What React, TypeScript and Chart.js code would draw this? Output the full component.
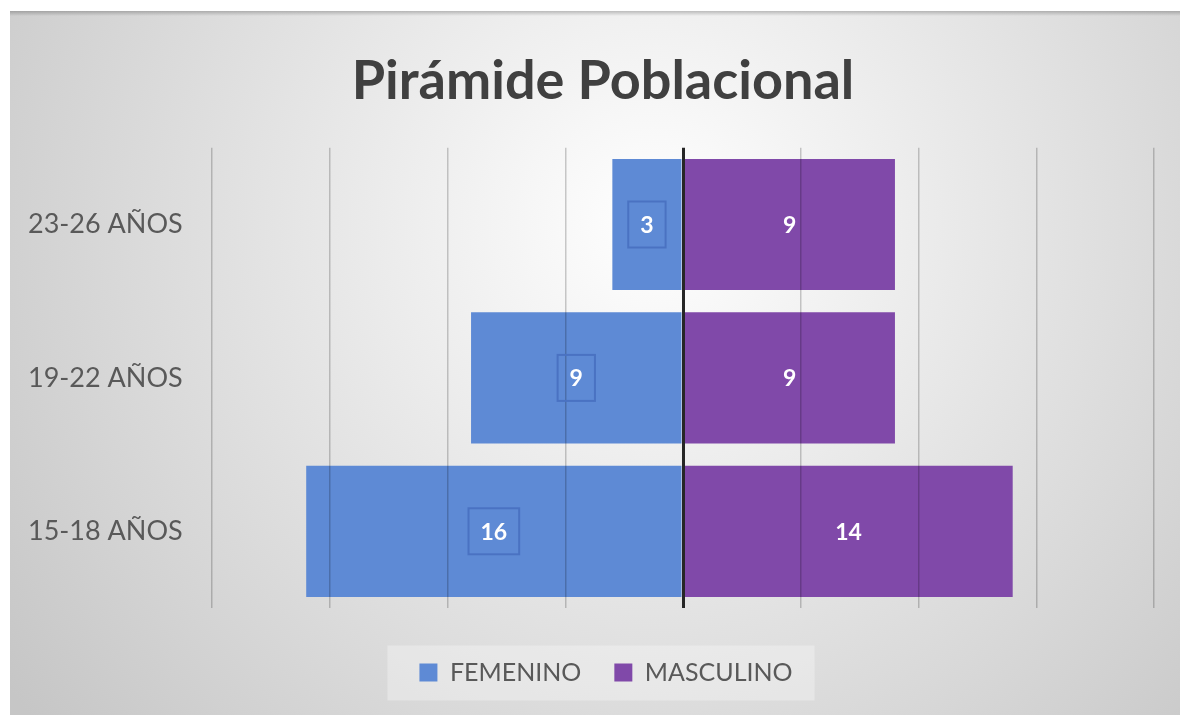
import React, { useEffect, useRef } from "react";
import { Chart, registerables } from "chart.js";

Chart.register(...registerables);

const TITLE = "Pirámide Poblacional";
const AGE_GROUPS = ["23-26 AÑOS", "19-22 AÑOS ", "15-18 AÑOS"];
const SERIES_NAMES = ["FEMENINO", "MASCULINO"];
const FEMENINO = [3, 9, 16];
const MASCULINO = [9, 9, 14];
const X_MIN = -20;
const X_MAX = 20;
const X_STEP = 5;
const COLORS = ["#5E8AD5", "#8049A9"];

const FONT = "Lato, 'Open Sans', sans-serif";

const shiftPlugin = {
  id: "shiftPlugin",
  afterLayout(chart: any) {
    if (chart.legend) {
      chart.legend.left += 15;
      chart.legend.right += 15;
    }
    if (chart.titleBlock) {
      chart.titleBlock.left += 12;
      chart.titleBlock.right += 12;
    }
  },
};

const backgroundPlugin = {
  id: "bgPlugin",
  beforeDraw(chart: any) {
    const { ctx, width, height } = chart;
    ctx.save();
    const g = ctx.createRadialGradient(width * 0.55, height * 0.3, 0, width * 0.55, height * 0.3, width * 0.68);
    g.addColorStop(0, "#ffffff");
    g.addColorStop(1, "#c6c6c6");
    ctx.fillStyle = g;
    ctx.fillRect(0, 0, width, height);
    const tg = ctx.createLinearGradient(0, 0, 0, 5);
    tg.addColorStop(0, "rgba(0,0,0,0.22)");
    tg.addColorStop(1, "rgba(0,0,0,0)");
    ctx.fillStyle = tg;
    ctx.fillRect(0, 0, width, 5);
    const lg = chart.legend;
    if (lg && lg.legendHitBoxes && lg.legendHitBoxes.length) {
      const boxes = lg.legendHitBoxes;
      const l = Math.min(...boxes.map((b: any) => b.left)) - 32;
      const r = Math.max(...boxes.map((b: any) => b.left + b.width)) + 22;
      const cy = boxes[0].top + boxes[0].height / 2;
      ctx.fillStyle = "rgba(255,255,255,0.3)";
      ctx.fillRect(l, cy - 27, r - l, 55);
    }
    ctx.restore();
  },
};

const labelPlugin = {
  id: "labelPlugin",
  afterDraw(chart: any) {
    const { ctx } = chart;
    ctx.save();
    ctx.font = `bold 23px ${FONT}`;
    ctx.textAlign = "center";
    ctx.textBaseline = "middle";
    chart.data.datasets.forEach((ds: any, di: number) => {
      const meta = chart.getDatasetMeta(di);
      meta.data.forEach((bar: any, i: number) => {
        const v = String(Math.abs(ds.data[i]));
        const { x, base, y } = bar.getProps(["x", "base", "y"], true);
        const cx = (x + base) / 2;
        if (di === 0) {
          const w = ctx.measureText(v).width + 24;
          ctx.strokeStyle = "#4A72C2";
          ctx.lineWidth = 2;
          ctx.strokeRect(cx - w / 2, y - 23, w, 46);
        }
        ctx.fillStyle = "#ffffff";
        ctx.fillText(v, cx, y + 1);
      });
    });
    ctx.restore();
  },
};

export default function App() {
  const ref = useRef<HTMLCanvasElement | null>(null);

  useEffect(() => {
    if (!ref.current) return;
    const chart = new Chart(ref.current, {
      type: "bar",
      data: {
        labels: AGE_GROUPS,
        datasets: [
          {
            label: SERIES_NAMES[0],
            data: FEMENINO.map((v) => -v),
            backgroundColor: COLORS[0],
            borderWidth: 0,
            barPercentage: 0.855,
            categoryPercentage: 1,
          },
          {
            label: SERIES_NAMES[1],
            data: MASCULINO,
            backgroundColor: COLORS[1],
            borderWidth: 0,
            barPercentage: 0.855,
            categoryPercentage: 1,
          },
        ],
      },
      options: {
        indexAxis: "y",
        responsive: false,
        animation: false,
        layout: { padding: { left: 18, right: 26, top: 0, bottom: 20 } },
        scales: {
          x: {
            stacked: true,
            min: X_MIN,
            max: X_MAX,
            ticks: { stepSize: X_STEP, display: false },
            grid: {
              color: (c: any) => (c.tick && c.tick.value === 0 ? "#262626" : "rgba(0,0,0,0.2)"),
              lineWidth: (c: any) => (c.tick && c.tick.value === 0 ? 3 : 1.5),
              drawTicks: false,
              z: 1,
            },
            border: { display: false },
            afterFit: (s: any) => {
              s.height = 19;
            },
          },
          y: {
            stacked: true,
            ticks: {
              crossAlign: "far",
              color: "#595959",
              font: { family: FONT, size: 27 },
              padding: 0,
            },
            grid: { display: false },
            border: { display: false },
            afterFit: (s: any) => {
              s.width = 184;
            },
          },
        },
        plugins: {
          title: {
            display: true,
            text: TITLE,
            color: "#404040",
            font: { family: FONT, size: 54, weight: "bold" },
            padding: { top: 38, bottom: 34 },
          },
          legend: {
            display: true,
            position: "bottom",
            labels: {
              boxWidth: 18,
              boxHeight: 18,
              padding: 33,
              color: "#595959",
              font: { family: FONT, size: 25 },
            },
          },
          tooltip: { enabled: false },
        },
      } as any,
      plugins: [shiftPlugin, backgroundPlugin, labelPlugin],
    });
    return () => chart.destroy();
  }, []);

  return (
    <div style={{ position: "fixed", left: 10, top: 11, width: 1170, height: 704 }}>
      <canvas ref={ref} width={1170} height={704} style={{ width: 1170, height: 704, display: "block" }} />
    </div>
  );
}
